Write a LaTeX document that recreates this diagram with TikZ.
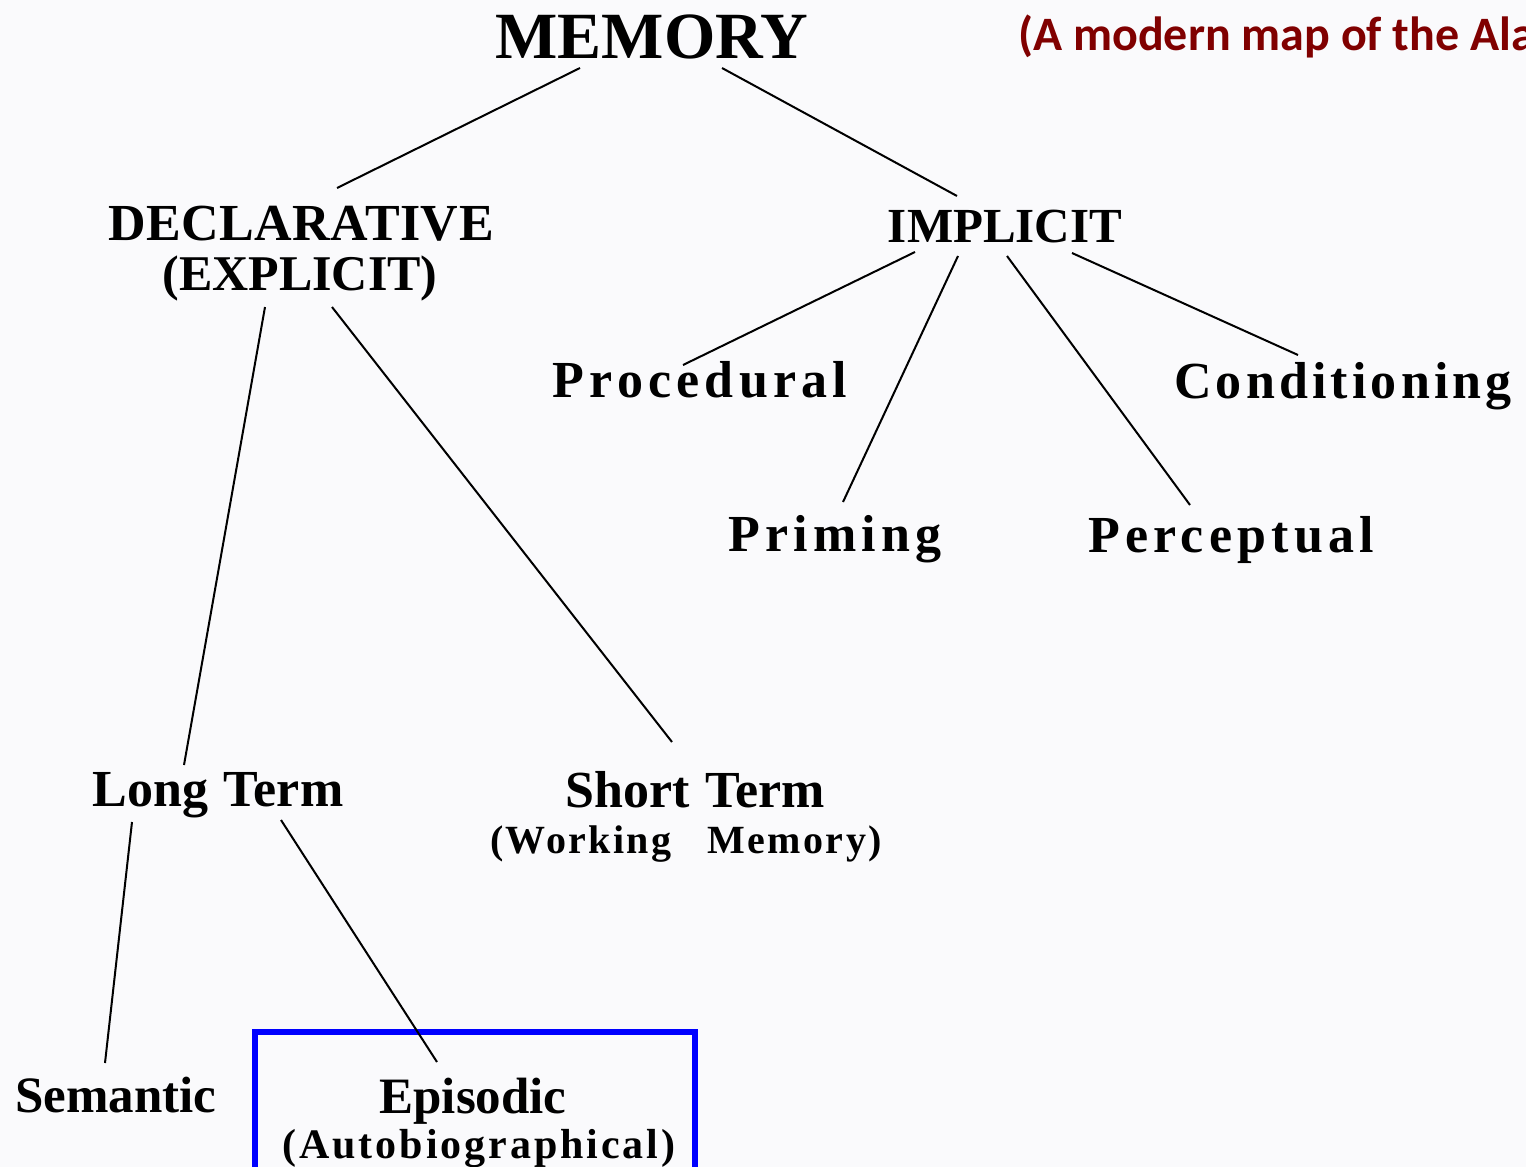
\documentclass[tikz,border=0pt]{standalone}
\usepackage{fontspec}
\setmainfont{Liberation Serif}
\newfontfamily\redfont{Carlito}
\usetikzlibrary{calc}
\definecolor{bgcol}{HTML}{FAFAFC}
\definecolor{darkred}{HTML}{800000}
\newcommand{\fsz}[1]{\fontsize{#1}{#1}\selectfont}
\newcommand{\ls}[1]{\addfontfeature{LetterSpace=#1}}
\begin{document}
\begin{tikzpicture}[x=0.5pt,y=-0.5pt,
  lab/.style={anchor=base,inner sep=0pt,text=black},
  conn/.style={draw=black,line width=1pt},
  highlight/.style={draw=blue,line width=2.6pt}]
\useasboundingbox (0,0) rectangle (1526,1167);
\clip (0,0) rectangle (1526,1167);
\fill[bgcol] (0,0) rectangle (1526,1167);

\node[lab,font=\fsz{33pt}\bfseries] (mem) at (652,58) {MEMORY};
\node[anchor=base west,inner sep=0pt,text=darkred,font=\redfont\fsz{24pt}\bfseries] (title) at (1018,50) {(A modern map of the Ala};

\node[lab,font=\fsz{26pt}\bfseries\ls{1}] (decl) at (301,240) {DECLARATIVE};
\node[lab,font=\fsz{25pt}\bfseries] (declb) at (300,290) {(EXPLICIT)};
\node[lab,font=\fsz{24.5pt}\bfseries] (impl) at (1005,242) {IMPLICIT};

\node[lab,font=\fsz{26pt}\bfseries\ls{10}] (proc) at (700,397) {Procedural};
\node[lab,font=\fsz{26pt}\bfseries\ls{8}] (cond) at (1343,398) {Conditioning};
\node[lab,font=\fsz{26pt}\bfseries\ls{10}] (prim) at (835,551) {Priming};
\node[lab,font=\fsz{26pt}\bfseries\ls{10}] (perc) at (1231,552) {Perceptual};

\node[lab,font=\fsz{26pt}\bfseries] (long) at (218,806) {Long\hspace{0.3em}Term};
\node[lab,font=\fsz{26pt}\bfseries] (short) at (695,807) {Short\hspace{0.3em}Term};
\node[lab,font=\fsz{20pt}\bfseries\ls{6}] (work) at (686,853) {(Working\hspace{0.9em}Memory)};

\node[lab,font=\fsz{25.5pt}\bfseries] (sem) at (116,1112) {Semantic};
\node[lab,font=\fsz{25.5pt}\bfseries] (epi) at (473,1113) {Episodic};
\node[lab,font=\fsz{21pt}\bfseries\ls{7}] (auto) at (479,1158) {(Autobiographical)};

\draw[highlight] (epi.base) ++(-218,-81) rectangle ++(440,180);

\draw[conn] ($(mem.base)+(-72,10)$) -- ($(decl.base)+(36,-52)$);
\draw[conn] ($(mem.base)+(70,10)$) -- ($(impl.base)+(-48,-46)$);

\draw[conn] ($(impl.base)+(-90,10)$) -- ($(proc.base)+(-17,-32)$);
\draw[conn] ($(impl.base)+(-47,14)$) -- ($(prim.base)+(8,-49)$);
\draw[conn] ($(impl.base)+(2,14)$) -- ($(perc.base)+(-41,-47)$);
\draw[conn] ($(impl.base)+(67,11)$) -- ($(cond.base)+(-45,-43)$);

\draw[conn] ($(declb.base)+(-35,17)$) -- ($(long.base)+(-34,-41)$);
\draw[conn] ($(declb.base)+(32,17)$) -- ($(short.base)+(-23,-65)$);

\draw[conn] ($(long.base)+(-86,16)$) -- ($(sem.base)+(-11,-49)$);
\draw[conn] ($(long.base)+(63,14)$) -- ($(epi.base)+(-36,-51)$);
\end{tikzpicture}
\end{document}
